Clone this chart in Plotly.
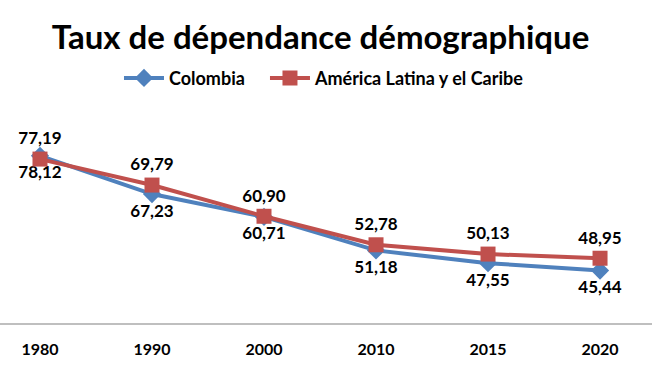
import plotly.graph_objects as go

years = ["1980", "1990", "2000", "2010", "2015", "2020"]
colombia = [78.12, 67.23, 60.71, 51.18, 47.55, 45.44]
latam = [77.19, 69.79, 60.90, 52.78, 50.13, 48.95]

def fmt(v):
    return f"{v:.2f}".replace(".", ",")

FONT = "Lato, 'Open Sans', sans-serif"
BLUE = "#4F81BD"
RED = "#C0504D"
LEG_FONT = dict(family=FONT, size=18, color="black", weight="bold")

fig = go.Figure()
fig.add_trace(go.Scatter(
    x=years, y=colombia, name="Colombia", mode="lines+markers+text",
    line=dict(color=BLUE, width=4),
    marker=dict(symbol="diamond", size=14, color=BLUE),
    text=[fmt(v) for v in colombia], textposition="bottom center",
    textfont=dict(family=FONT, size=17, color="black", weight="bold"),
    legend="legend",
))
fig.add_trace(go.Scatter(
    x=years, y=latam, name="América Latina y el Caribe", mode="lines+markers+text",
    line=dict(color=RED, width=4),
    marker=dict(symbol="square", size=15, color=RED),
    text=[fmt(v) for v in latam], textposition="top center",
    textfont=dict(family=FONT, size=17, color="black", weight="bold"),
    legend="legend2",
))

fig.update_layout(
    width=672, height=373,
    margin=dict(l=0, r=20, t=112, b=50, autoexpand=False),
    paper_bgcolor="white", plot_bgcolor="white",
    title=dict(text="<b>Taux de dépendance démographique</b>", x=0.477, xanchor="center",
               y=0.9, yanchor="middle", yref="container",
               font=dict(family=FONT, size=33, color="black")),
    legend=dict(orientation="h", x=0.1825, xanchor="left", y=1.16, yref="paper",
                yanchor="middle", font=LEG_FONT, itemwidth=40),
    legend2=dict(orientation="h", x=0.4064, xanchor="left", y=1.16, yref="paper",
                 yanchor="middle", font=LEG_FONT, itemwidth=40),
    showlegend=True,
    xaxis=dict(type="category", range=[-0.357, 5.464], showgrid=False, zeroline=False,
               showline=True, linecolor="#BFBFBF", linewidth=2, ticks="",
               ticklabelstandoff=11,
               tickfont=dict(family=FONT, size=16, color="black", weight="bold")),
    yaxis=dict(range=[30.5, 90.6], showgrid=False, zeroline=False, showticklabels=False,
               showline=False),
)
fig.write_html("out.html", config={"displayModeBar": False},
               post_script="document.body.style.margin='0';")
